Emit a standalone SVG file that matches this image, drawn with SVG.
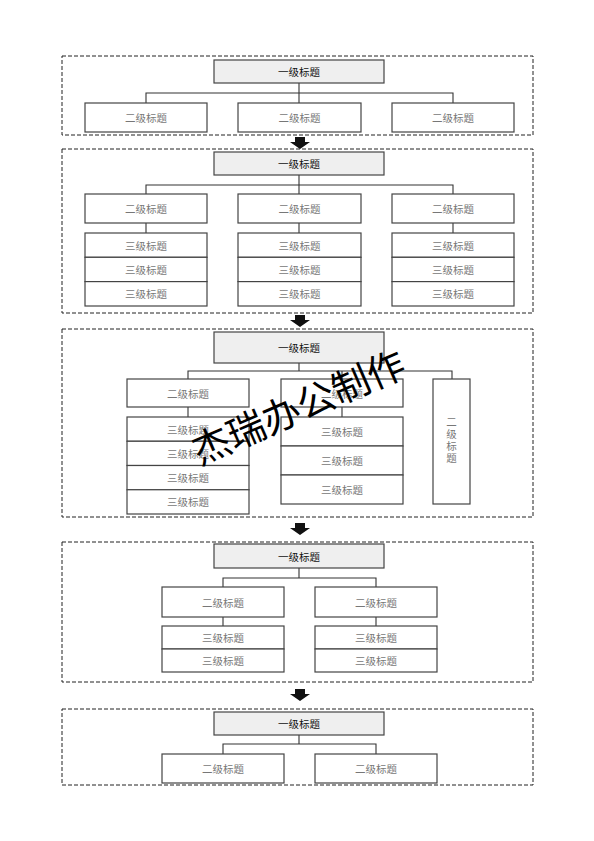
<svg xmlns="http://www.w3.org/2000/svg" width="594" height="841" viewBox="0 0 594 841">
<style>
.frame{fill:none;stroke:#222;stroke-width:1;stroke-dasharray:4,2}
.l1{fill:#efefef;stroke:#444;stroke-width:1.2}
.bx{fill:#fff;stroke:#444;stroke-width:1.2}
.ln{fill:none;stroke:#333;stroke-width:1.1}
.t1{font-family:"Noto Sans CJK SC","Liberation Sans",sans-serif;font-size:10.5px;fill:#111;text-anchor:middle;dominant-baseline:central}
.t2{font-family:"Noto Sans CJK SC","Liberation Sans",sans-serif;font-size:10.5px;fill:#777;text-anchor:middle;dominant-baseline:central}
.tv{font-family:"Noto Sans CJK SC","Liberation Sans",sans-serif;font-size:10.5px;fill:#777;text-anchor:middle;writing-mode:vertical-rl;letter-spacing:1.5px}
.arr{fill:#111}
.wm{font-family:"Noto Sans CJK SC","Liberation Sans",sans-serif;font-size:38px;fill:#000;text-anchor:middle}
</style>
<defs>
<path id="arrow" class="arr" d="M-5,0 H5 V5 H10 L0,12 L-10,5 H-5 Z"/>
</defs>
<rect width="594" height="841" fill="#fff"/>

<!-- frames -->
<g id="frames">
<rect class="frame" x="62" y="56" width="471" height="79"/>
<rect class="frame" x="62" y="149" width="471" height="164"/>
<rect class="frame" x="62" y="329" width="471" height="188"/>
<rect class="frame" x="62" y="542" width="471" height="140"/>
<rect class="frame" x="62" y="709" width="471" height="76"/>
</g>

<!-- arrows between sections -->
<g id="arrows">
<use href="#arrow" x="300" y="137"/>
<use href="#arrow" x="300" y="315"/>
<use href="#arrow" x="300" y="523"/>
<use href="#arrow" x="300" y="689"/>
</g>

<!-- connectors -->
<g id="connectors">
<path class="ln" d="M299,83 V93 M146,103 V93 H453 V103 M299,93 V103"/>
<path class="ln" d="M299,175 V185 M146,194 V185 H453 V194 M299,185 V194 M146,223 V233 M299,223 V233 M453,223 V233"/>
<path class="ln" d="M299,363 V371 M188,379 V371 H452 V379 M342,371 V379 M188,407 V417 M342,407 V417"/>
<path class="ln" d="M299,568 V578 M223,587 V578 H376 V587 M223,617 V626 M376,617 V626"/>
<path class="ln" d="M299,735 V744 M223,754 V744 H376 V754"/>
</g>

<!-- Section 1 -->
<g id="s1-l1"><rect class="l1" x="214" y="60" width="170" height="23"/><text class="t1" x="299" y="71.5">一级标题</text></g>
<g id="s1-a"><rect class="bx" x="85" y="103" width="122" height="29"/><text class="t2" x="146" y="117.5">二级标题</text></g>
<g id="s1-b"><rect class="bx" x="238" y="103" width="123" height="29"/><text class="t2" x="299.5" y="117.5">二级标题</text></g>
<g id="s1-c"><rect class="bx" x="392" y="103" width="122" height="29"/><text class="t2" x="453" y="117.5">二级标题</text></g>

<!-- Section 2 -->
<g id="s2-l1"><rect class="l1" x="214" y="152" width="170" height="23"/><text class="t1" x="299" y="163.5">一级标题</text></g>
<g id="s2-a"><rect class="bx" x="85" y="194" width="122" height="29"/><text class="t2" x="146" y="208.5">二级标题</text></g>
<g id="s2-b"><rect class="bx" x="238" y="194" width="123" height="29"/><text class="t2" x="299.5" y="208.5">二级标题</text></g>
<g id="s2-c"><rect class="bx" x="392" y="194" width="122" height="29"/><text class="t2" x="453" y="208.5">二级标题</text></g>
<g id="s2-a3">
<rect class="bx" x="85" y="233" width="122" height="24.3"/><text class="t2" x="146" y="245.2">三级标题</text>
<rect class="bx" x="85" y="257.3" width="122" height="24.3"/><text class="t2" x="146" y="269.5">三级标题</text>
<rect class="bx" x="85" y="281.6" width="122" height="24.4"/><text class="t2" x="146" y="293.8">三级标题</text>
</g>
<g id="s2-b3">
<rect class="bx" x="238" y="233" width="123" height="24.3"/><text class="t2" x="299.5" y="245.2">三级标题</text>
<rect class="bx" x="238" y="257.3" width="123" height="24.3"/><text class="t2" x="299.5" y="269.5">三级标题</text>
<rect class="bx" x="238" y="281.6" width="123" height="24.4"/><text class="t2" x="299.5" y="293.8">三级标题</text>
</g>
<g id="s2-c3">
<rect class="bx" x="392" y="233" width="122" height="24.3"/><text class="t2" x="453" y="245.2">三级标题</text>
<rect class="bx" x="392" y="257.3" width="122" height="24.3"/><text class="t2" x="453" y="269.5">三级标题</text>
<rect class="bx" x="392" y="281.6" width="122" height="24.4"/><text class="t2" x="453" y="293.8">三级标题</text>
</g>

<!-- Section 3 -->
<g id="s3-l1"><rect class="l1" x="214" y="332" width="170" height="31"/><text class="t1" x="299" y="347.5">一级标题</text></g>
<g id="s3-a"><rect class="bx" x="127" y="379" width="122" height="28"/><text class="t2" x="188" y="393">二级标题</text></g>
<g id="s3-b"><rect class="bx" x="281" y="379" width="122" height="28"/><text class="t2" x="342" y="393">二级标题</text></g>
<g id="s3-c"><rect class="bx" x="433" y="379" width="37" height="125"/>
<text class="tv" x="451.5" y="441">二级标题</text></g>
<g id="s3-a3">
<rect class="bx" x="127" y="417" width="122" height="24.25"/><text class="t2" x="188" y="429.1">三级标题</text>
<rect class="bx" x="127" y="441.25" width="122" height="24.25"/><text class="t2" x="188" y="453.4">三级标题</text>
<rect class="bx" x="127" y="465.5" width="122" height="24.25"/><text class="t2" x="188" y="477.6">三级标题</text>
<rect class="bx" x="127" y="489.75" width="122" height="24.25"/><text class="t2" x="188" y="501.9">三级标题</text>
</g>
<g id="s3-b3">
<rect class="bx" x="281" y="417" width="122" height="29"/><text class="t2" x="342" y="431.5">三级标题</text>
<rect class="bx" x="281" y="446" width="122" height="29"/><text class="t2" x="342" y="460.5">三级标题</text>
<rect class="bx" x="281" y="475" width="122" height="29"/><text class="t2" x="342" y="489.5">三级标题</text>
</g>

<!-- Section 4 -->
<g id="s4-l1"><rect class="l1" x="214" y="544" width="170" height="24"/><text class="t1" x="299" y="556">一级标题</text></g>
<g id="s4-a"><rect class="bx" x="162" y="587" width="122" height="30"/><text class="t2" x="223" y="602">二级标题</text></g>
<g id="s4-b"><rect class="bx" x="315" y="587" width="122" height="30"/><text class="t2" x="376" y="602">二级标题</text></g>
<g id="s4-a3">
<rect class="bx" x="162" y="626" width="122" height="23"/><text class="t2" x="223" y="637.5">三级标题</text>
<rect class="bx" x="162" y="649" width="122" height="23"/><text class="t2" x="223" y="660.5">三级标题</text>
</g>
<g id="s4-b3">
<rect class="bx" x="315" y="626" width="122" height="23"/><text class="t2" x="376" y="637.5">三级标题</text>
<rect class="bx" x="315" y="649" width="122" height="23"/><text class="t2" x="376" y="660.5">三级标题</text>
</g>

<!-- Section 5 -->
<g id="s5-l1"><rect class="l1" x="214" y="712" width="170" height="23"/><text class="t1" x="299" y="723.5">一级标题</text></g>
<g id="s5-a"><rect class="bx" x="162" y="754" width="122" height="29"/><text class="t2" x="223" y="768.5">二级标题</text></g>
<g id="s5-b"><rect class="bx" x="315" y="754" width="122" height="29"/><text class="t2" x="376" y="768.5">二级标题</text></g>

<!-- watermark -->
<text class="wm" x="304" y="420" transform="rotate(-23.5 304 420)">杰瑞办公制作</text>
</svg>
